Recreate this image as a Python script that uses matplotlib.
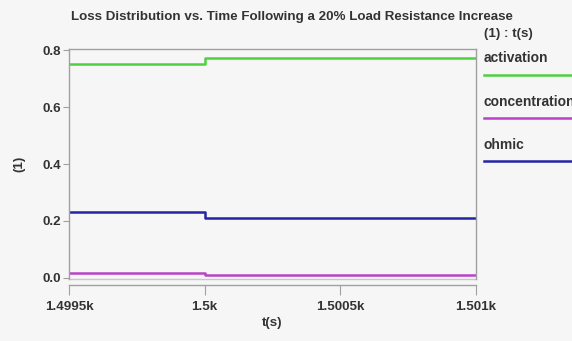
import matplotlib
matplotlib.use('Agg')
import matplotlib.pyplot as plt
from matplotlib.lines import Line2D

plt.rcParams['font.family'] = ['Liberation Sans', 'DejaVu Sans']

# data
t = [1499.5, 1500.0, 1501.0]
activation = [0.751, 0.772, 0.772]
concentration = [0.018, 0.011, 0.011]
ohmic = [0.232, 0.211, 0.211]

series_names = ['activation', 'concentration', 'ohmic']
series_colors = ['#4fd041', '#b843c8', '#2424a4']

xticks = [1499.5, 1500.0, 1500.5, 1501.0]
xtick_labels = ['1.4995k', '1.5k', '1.5005k', '1.501k']
yticks = [0.0, 0.2, 0.4, 0.6, 0.8]
ytick_labels = ['0.0', '0.2', '0.4', '0.6', '0.8']

bg = '#f6f6f6'
frame = '#a0a0a0'
txt = '#333333'
fs = 9.6

fig = plt.figure(figsize=(5.72, 3.41), dpi=100, facecolor=bg)
ax = fig.add_axes([69/572, 1-279/341, (476-69)/572, (279-49)/341])
ax.set_facecolor(bg)

for vals, name, col in zip([activation, concentration, ohmic], series_names, series_colors):
    ax.plot(t, vals, drawstyle='steps-post', color=col, lw=1.8, label=name)

ax.set_xlim(1499.5, 1501.0)
ax.set_ylim(-0.004, 0.804)
ax.set_xticks(xticks)
ax.set_xticklabels(xtick_labels)
ax.set_yticks(yticks)
ax.set_yticklabels(ytick_labels)

for s in ['top', 'right', 'left', 'bottom']:
    ax.spines[s].set_color(frame)
    ax.spines[s].set_linewidth(1.0)
ax.spines['bottom'].set_position(('outward', 4))
# bottom edge of the plot box
ax.plot([0, 1], [0, 0], transform=ax.transAxes, color='#c8c8c8', lw=1.0, clip_on=False)

ax.tick_params(axis='both', colors=frame, labelcolor=txt, labelsize=fs, length=4, width=0.8)
ax.tick_params(axis='x', length=7, pad=5)
ax.tick_params(axis='y', pad=2)
for lbl in ax.get_xticklabels() + ax.get_yticklabels():
    lbl.set_fontweight('bold')

ax.set_xlabel('t(s)', fontsize=fs, fontweight='bold', color=txt, labelpad=3)
ax.set_ylabel('(1)', fontsize=fs, fontweight='bold', color=txt, labelpad=12)

fig.text(292/572, 1-17/341, 'Loss Distribution vs. Time Following a 20% Load Resistance Increase',
         ha='center', va='center', fontsize=fs, fontweight='bold', color=txt)

# legend on the right
fig.text(484/572, 1-34/341, '(1) : t(s)', ha='left', va='center', fontsize=fs,
         fontweight='bold', color=txt)
label_y = [58, 102, 145]
line_y = [75, 118, 161]
for name, col, ly, my in zip(series_names, series_colors, label_y, line_y):
    fig.text(484/572, 1-ly/341, name, ha='left', va='center', fontsize=fs + 0.4,
             fontweight='bold', color=txt)
    fig.add_artist(Line2D([484/572, 1.0], [1-my/341, 1-my/341], transform=fig.transFigure,
                          color=col, lw=1.8))

fig.savefig('out.png', dpi=100, facecolor=bg)
